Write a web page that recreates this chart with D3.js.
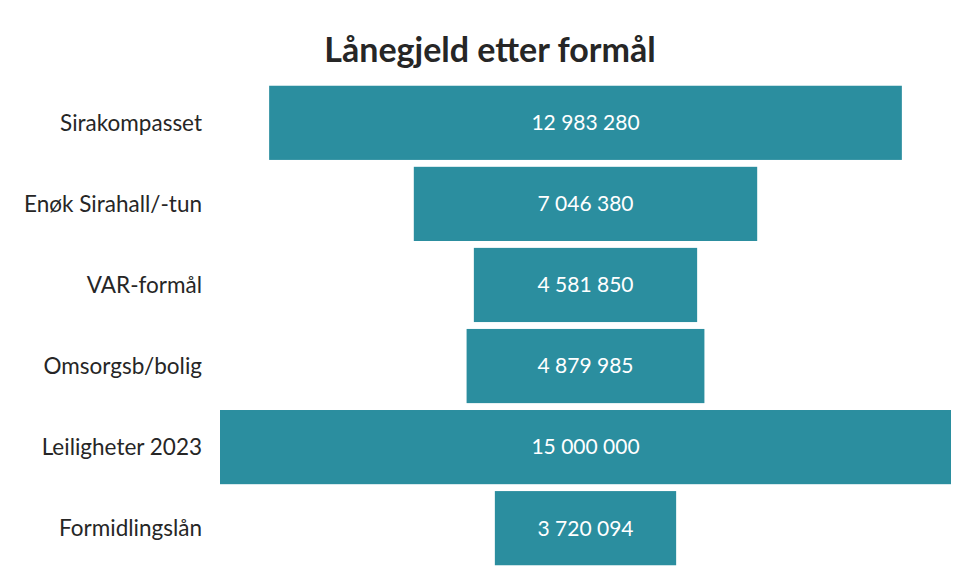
<!DOCTYPE html>
<html>
<head>
<meta charset="utf-8">
<script src="https://cdn.jsdelivr.net/npm/d3@7/dist/d3.min.js"></script>
<style>
  html, body { margin: 0; padding: 0; background: #fff; }
  svg { display: block; }
</style>
</head>
<body>
<svg id="chart" width="953" height="578"></svg>
<script>
const categories = ["Sirakompasset", "Enøk Sirahall/-tun", "VAR-formål", "Omsorgsb/bolig", "Leiligheter 2023", "Formidlingslån"];
const values = [12983280, 7046380, 4581850, 4879985, 15000000, 3720094];
const title = "Lånegjeld etter formål";

const svg = d3.select("#chart");
const W = 953, H = 578;
const centerX = 585.5;
const maxWidth = 731;

const fmt = v => d3.format(",")(v).replace(/,/g, " ");

const w = d3.scaleLinear().domain([0, d3.max(values)]).range([0, maxWidth]);
const y = d3.scaleBand().domain(categories).range([82.5, 568.5]).paddingInner(0.085).paddingOuter(0.04);

svg.append("text")
  .attr("x", 490).attr("y", 62)
  .attr("text-anchor", "middle")
  .attr("font-family", "Lato, 'Open Sans', sans-serif")
  .attr("font-weight", "bold")
  .attr("font-size", 34)
  .attr("fill", "#262626")
  .text(title);

const data = categories.map((c, i) => ({c, v: values[i]}));

svg.selectAll("rect.bar").data(data).enter().append("rect")
  .attr("class", "bar")
  .attr("x", d => centerX - w(d.v) / 2)
  .attr("y", d => y(d.c))
  .attr("width", d => w(d.v))
  .attr("height", y.bandwidth())
  .attr("fill", "#2b8e9f");

svg.selectAll("text.val").data(data).enter().append("text")
  .attr("class", "val")
  .attr("x", centerX)
  .attr("y", d => y(d.c) + y.bandwidth() / 2)
  .attr("dy", "0.35em")
  .attr("text-anchor", "middle")
  .attr("font-family", "Lato, 'Open Sans', sans-serif")
  .attr("font-size", 21)
  .attr("fill", "#ffffff")
  .text(d => fmt(d.v));

svg.selectAll("text.cat").data(data).enter().append("text")
  .attr("class", "cat")
  .attr("x", 202)
  .attr("y", d => y(d.c) + y.bandwidth() / 2)
  .attr("dy", "0.35em")
  .attr("text-anchor", "end")
  .attr("font-family", "Lato, 'Open Sans', sans-serif")
  .attr("font-size", 22.5)
  .attr("fill", "#262626")
  .text(d => d.c);
</script>
</body>
</html>
